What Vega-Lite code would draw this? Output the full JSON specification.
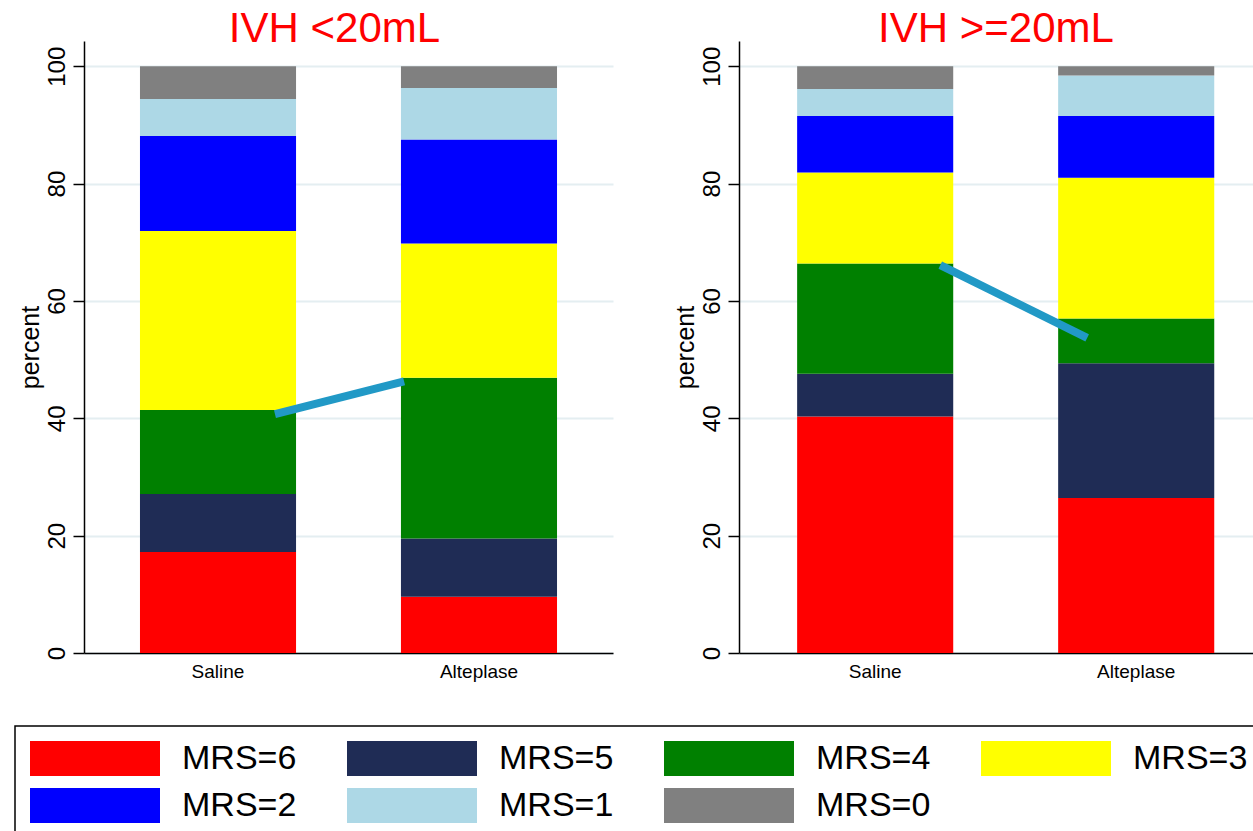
{
  "$schema": "https://vega.github.io/schema/vega-lite/v6.json",
  "padding": {"left": 14, "top": 8, "right": 0, "bottom": 0},
  "background": "white",
  "datasets": {
    "bars": [
      {"panel": "lt20", "group": "Saline", "mrs": "MRS=6", "score": 6, "pct": 17.2},
      {"panel": "lt20", "group": "Saline", "mrs": "MRS=5", "score": 5, "pct": 9.9},
      {"panel": "lt20", "group": "Saline", "mrs": "MRS=4", "score": 4, "pct": 14.3},
      {"panel": "lt20", "group": "Saline", "mrs": "MRS=3", "score": 3, "pct": 30.5},
      {"panel": "lt20", "group": "Saline", "mrs": "MRS=2", "score": 2, "pct": 16.2},
      {"panel": "lt20", "group": "Saline", "mrs": "MRS=1", "score": 1, "pct": 6.3},
      {"panel": "lt20", "group": "Saline", "mrs": "MRS=0", "score": 0, "pct": 5.6},
      {"panel": "lt20", "group": "Alteplase", "mrs": "MRS=6", "score": 6, "pct": 9.6},
      {"panel": "lt20", "group": "Alteplase", "mrs": "MRS=5", "score": 5, "pct": 9.9},
      {"panel": "lt20", "group": "Alteplase", "mrs": "MRS=4", "score": 4, "pct": 27.4},
      {"panel": "lt20", "group": "Alteplase", "mrs": "MRS=3", "score": 3, "pct": 22.9},
      {"panel": "lt20", "group": "Alteplase", "mrs": "MRS=2", "score": 2, "pct": 17.7},
      {"panel": "lt20", "group": "Alteplase", "mrs": "MRS=1", "score": 1, "pct": 8.8},
      {"panel": "lt20", "group": "Alteplase", "mrs": "MRS=0", "score": 0, "pct": 3.7},
      {"panel": "ge20", "group": "Saline", "mrs": "MRS=6", "score": 6, "pct": 40.3},
      {"panel": "ge20", "group": "Saline", "mrs": "MRS=5", "score": 5, "pct": 7.3},
      {"panel": "ge20", "group": "Saline", "mrs": "MRS=4", "score": 4, "pct": 18.8},
      {"panel": "ge20", "group": "Saline", "mrs": "MRS=3", "score": 3, "pct": 15.5},
      {"panel": "ge20", "group": "Saline", "mrs": "MRS=2", "score": 2, "pct": 9.6},
      {"panel": "ge20", "group": "Saline", "mrs": "MRS=1", "score": 1, "pct": 4.6},
      {"panel": "ge20", "group": "Saline", "mrs": "MRS=0", "score": 0, "pct": 3.9},
      {"panel": "ge20", "group": "Alteplase", "mrs": "MRS=6", "score": 6, "pct": 26.4},
      {"panel": "ge20", "group": "Alteplase", "mrs": "MRS=5", "score": 5, "pct": 23.0},
      {"panel": "ge20", "group": "Alteplase", "mrs": "MRS=4", "score": 4, "pct": 7.6},
      {"panel": "ge20", "group": "Alteplase", "mrs": "MRS=3", "score": 3, "pct": 24.0},
      {"panel": "ge20", "group": "Alteplase", "mrs": "MRS=2", "score": 2, "pct": 10.5},
      {"panel": "ge20", "group": "Alteplase", "mrs": "MRS=1", "score": 1, "pct": 6.9},
      {"panel": "ge20", "group": "Alteplase", "mrs": "MRS=0", "score": 0, "pct": 1.6}
    ],
    "lines": [
      {"panel": "lt20", "from": "Saline", "to": "Alteplase", "y_from": 40.7, "y_to": 46.3},
      {"panel": "ge20", "from": "Saline", "to": "Alteplase", "y_from": 66.1, "y_to": 53.7}
    ]
  },
  "spacing": 60,
  "hconcat": [
    {
      "width": 529,
      "height": 612,
      "title": {"text": "IVH <20mL", "dx": -14},
      "layer": [
        {
          "data": {"name": "bars"},
          "transform": [{"filter": "datum.panel === 'lt20'"}],
          "mark": {"type": "bar"},
          "encoding": {
            "x": {"field": "group", "type": "nominal",
                  "scale": {"domain": ["Saline", "Alteplase"], "paddingInner": 0.402, "paddingOuter": 0.2145}},
            "y": {"field": "pct", "type": "quantitative", "stack": "zero",
                  "scale": {"domain": [0, 104.3], "nice": false},
                  "axis": {"title": "percent", "values": [0, 20, 40, 60, 80, 100]}},
            "color": {"field": "mrs", "type": "nominal",
                      "scale": {"domain": ["MRS=6", "MRS=5", "MRS=4", "MRS=3", "MRS=2", "MRS=1", "MRS=0"],
                                "range": ["#ff0000", "#1f2c55", "#008000", "#ffff00", "#0000ff", "#add8e6", "#808080"]}},
            "order": {"field": "score", "type": "quantitative", "sort": "descending"}
          }
        },
        {
          "data": {"name": "lines"},
          "transform": [{"filter": "datum.panel === 'lt20'"}],
          "mark": {"type": "rule", "color": "#2199c6", "strokeWidth": 8, "strokeCap": "butt"},
          "encoding": {
            "x": {"field": "from", "type": "nominal", "bandPosition": 0.865},
            "x2": {"field": "to", "bandPosition": 0.02},
            "y": {"field": "y_from", "type": "quantitative"},
            "y2": {"field": "y_to"}
          }
        }
      ]
    },
    {
      "width": 514,
      "height": 612,
      "title": {"text": "IVH >=20mL", "dx": 0},
      "layer": [
        {
          "data": {"name": "bars"},
          "transform": [{"filter": "datum.panel === 'ge20'"}],
          "mark": {"type": "bar"},
          "encoding": {
            "x": {"field": "group", "type": "nominal",
                  "scale": {"domain": ["Saline", "Alteplase"], "paddingInner": 0.402, "paddingOuter": 0.1856, "align": 0.6}},
            "y": {"field": "pct", "type": "quantitative", "stack": "zero",
                  "scale": {"domain": [0, 104.3], "nice": false},
                  "axis": {"title": "percent", "values": [0, 20, 40, 60, 80, 100]}},
            "color": {"field": "mrs", "type": "nominal",
                      "scale": {"domain": ["MRS=6", "MRS=5", "MRS=4", "MRS=3", "MRS=2", "MRS=1", "MRS=0"],
                                "range": ["#ff0000", "#1f2c55", "#008000", "#ffff00", "#0000ff", "#add8e6", "#808080"]}},
            "order": {"field": "score", "type": "quantitative", "sort": "descending"}
          }
        },
        {
          "data": {"name": "lines"},
          "transform": [{"filter": "datum.panel === 'ge20'"}],
          "mark": {"type": "rule", "color": "#2199c6", "strokeWidth": 8, "strokeCap": "butt"},
          "encoding": {
            "x": {"field": "from", "type": "nominal", "bandPosition": 0.917},
            "x2": {"field": "to", "bandPosition": 0.186},
            "y": {"field": "y_from", "type": "quantitative"},
            "y2": {"field": "y_to"}
          }
        }
      ]
    }
  ],
  "config": {
    "font": "Liberation Sans",
    "view": {"stroke": null},
    "title": {"color": "#ff0000", "fontSize": 42, "fontWeight": "normal", "font": "Liberation Sans",
              "anchor": "middle", "baseline": "alphabetic", "offset": -10},
    "axisY": {
      "labelAngle": -90, "labelAlign": "center", "labelBaseline": "bottom",
      "labelFontSize": 24, "labelColor": "#000", "labelPadding": 4,
      "tickSize": 11, "tickColor": "#000", "tickWidth": 1.5,
      "domainColor": "#000", "domainWidth": 1.5,
      "grid": true, "gridColor": "#e4eef1", "gridWidth": 2,
      "titleFontSize": 25, "titleFontWeight": "normal", "titleColor": "#000", "titlePadding": 2
    },
    "axisX": {
      "title": null, "labelAngle": 0, "labelFontSize": 19, "labelColor": "#000",
      "ticks": false, "tickSize": 0, "labelPadding": 9,
      "domainColor": "#000", "domainWidth": 1.5, "grid": false
    },
    "legend": {
      "orient": "none", "legendX": -69, "legendY": 685,
      "columns": 4, "direction": "horizontal", "title": null, "gridAlign": "all",
      "symbolType": "M-1,-0.27H1V0.27H-1Z", "symbolSize": 16900, "symbolStrokeWidth": 0,
      "symbolOpacity": 1,
      "labelFontSize": 34, "labelFont": "Liberation Sans", "labelColor": "#000", "labelOffset": 22, "labelLimit": 0,
      "columnPadding": 50, "rowPadding": 12, "clipHeight": 35,
      "padding": 15, "strokeColor": "#000", "strokeWidth": 1.5
    }
  }
}
